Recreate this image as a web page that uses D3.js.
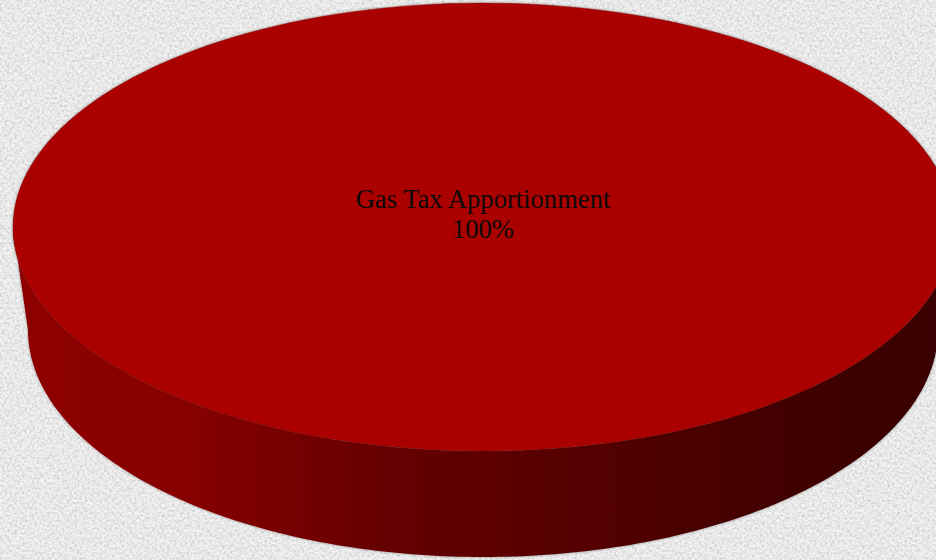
<!DOCTYPE html>
<html>
<head>
<meta charset="utf-8">
<script src="https://cdn.jsdelivr.net/npm/d3@7"></script>
<style>
  html, body { margin: 0; padding: 0; background: #eeeeee; }
  svg { display: block; }
</style>
</head>
<body>
<svg id="chart" width="936" height="560"></svg>
<script>
// Revenue sources and their amounts (single source = whole pie)
const categories = ["Gas Tax Apportionment"];
const values = [100];
const sliceColors = ["#aa0000"];

const W = 936, H = 560;
const svg = d3.select("#chart");
const defs = svg.append("defs");

// Paper-like background texture
const tex = defs.append("filter").attr("id", "paper")
  .attr("x", 0).attr("y", 0).attr("width", "100%").attr("height", "100%");
tex.append("feTurbulence").attr("type", "fractalNoise")
  .attr("baseFrequency", 0.4).attr("numOctaves", 3).attr("seed", 7).attr("result", "n");
tex.append("feColorMatrix").attr("type", "matrix")
  .attr("values", "0 0 0 0 0  0 0 0 0 0  0 0 0 0 0  0.32 0 0 0 -0.12").attr("result", "m");
tex.append("feGaussianBlur").attr("stdDeviation", 0.7);
svg.append("rect").attr("width", W).attr("height", H).attr("fill", "#f2f2f2");
svg.append("rect").attr("width", W).attr("height", H).attr("filter", "url(#paper)");

// Soft edge shadow around the pie body
const sh = defs.append("filter").attr("id", "edge")
  .attr("x", "-5%").attr("y", "-5%").attr("width", "110%").attr("height", "110%");
sh.append("feDropShadow").attr("dx", 0).attr("dy", 0)
  .attr("stdDeviation", 1.4).attr("flood-color", "#000").attr("flood-opacity", 0.4);

// Horizontal lighting of the pie wall
const grad = defs.append("linearGradient").attr("id", "wall")
  .attr("gradientUnits", "userSpaceOnUse")
  .attr("x1", 13).attr("x2", 953).attr("y1", 0).attr("y2", 0);
[[0, "#8e0000"], [0.19, "#860000"], [0.39, "#660000"], [0.5, "#5c0000"],
 [0.61, "#540000"], [0.84, "#400000"], [1, "#380000"]]
  .forEach(([o, c]) => grad.append("stop").attr("offset", o).attr("stop-color", c));

// Projection of the unit disc: top face and (perspective-narrowed) bottom face
const xTop = d3.scaleLinear().domain([-1, 1]).range([13, 953]);
const yTop = d3.scaleLinear().domain([-1, 1]).range([3, 451]);
const xBot = d3.scaleLinear().domain([-1, 1]).range([28, 938]);
const yBot = d3.scaleLinear().domain([-1, 1]).range([103, 557]);

const topPt = a => [xTop(Math.sin(a)), yTop(-Math.cos(a))];
const botPt = a => [xBot(Math.sin(a)), yBot(-Math.cos(a))];
const sample = (a0, a1, f) => d3.range(0, 181).map(i => f(a0 + (a1 - a0) * i / 180));

const pie = d3.pie().sort(null).value(d => d.value);
const arcs = pie(categories.map((c, i) => ({ name: c, value: values[i], color: sliceColors[i] })));
const total = d3.sum(values);
const line = d3.line();

const body = svg.append("g").attr("filter", "url(#edge)");

// Outer wall: only the front half (angles PI/2 .. 3PI/2) is visible
arcs.forEach(d => {
  const a0 = Math.max(d.startAngle, Math.PI / 2);
  const a1 = Math.min(d.endAngle, 3 * Math.PI / 2);
  if (a1 <= a0) return;
  const pts = sample(a0, a1, topPt).concat(sample(a1, a0, botPt));
  body.append("path").attr("d", line(pts) + "Z").attr("fill", "url(#wall)");
});

// Top faces
arcs.forEach(d => {
  const full = d.endAngle - d.startAngle >= 2 * Math.PI - 1e-6;
  let pts = sample(d.startAngle, d.endAngle, topPt);
  if (!full) pts = [[xTop(0), yTop(0)]].concat(pts);
  body.append("path").attr("d", line(pts) + "Z")
    .attr("fill", d.data.color)
    .attr("stroke", "#7a0000").attr("stroke-opacity", 0.5).attr("stroke-width", 0.8);
});

// Data labels
const pct = d3.format(".0%");
arcs.forEach(d => {
  const full = d.endAngle - d.startAngle >= 2 * Math.PI - 1e-6;
  const mid = (d.startAngle + d.endAngle) / 2;
  const cx = full ? xTop(0) : xTop(0.6 * Math.sin(mid));
  const cy = full ? yTop(0) : yTop(-0.6 * Math.cos(mid));
  const t = svg.append("text")
    .attr("text-anchor", "middle")
    .attr("font-family", "'Liberation Serif', 'Times New Roman', serif")
    .attr("font-size", 26.6).attr("fill", "#0a0a0a");
  t.append("tspan").attr("x", cx).attr("y", cy - 19).text(d.data.name);
  t.append("tspan").attr("x", cx).attr("y", cy + 11).text(pct(d.data.value / total));
});
</script>
</body>
</html>
